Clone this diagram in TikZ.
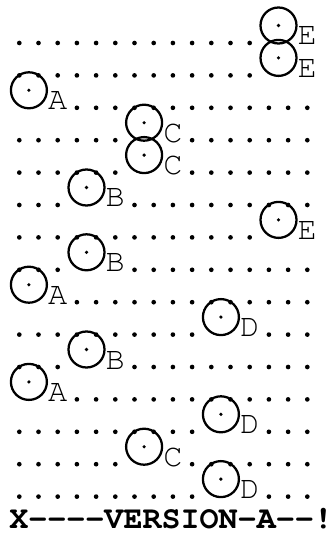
\documentclass[tikz,border=0pt]{standalone}
\usepackage[T1]{fontenc}
\usepackage{courier}
\begin{document}
\begin{tikzpicture}[x=0.75pt, y=-0.75pt,
        ring/.style={circle, draw, line width=1.7pt, minimum size=27pt, inner sep=0pt},
        tag/.style={anchor=base, inner sep=0pt, font=\ttfamily\fontsize{24}{24}\selectfont}]

        \useasboundingbox (0,0) rectangle (334,541);

        \foreach \r/\s/\l [count=\i] in {1/14/E, 2/14/E, 3/1/A, 4/7/C, 5/7/C, 6/4/B, 7/14/E, 8/4/B,
                                         9/1/A, 10/11/D, 11/4/B, 12/1/A, 13/11/D, 14/7/C, 15/11/D}
            {
                % dots of the row, left out where the marker sits
                \foreach \c in {1,...,16}
                    {
                        \pgfmathtruncatemacro\keep{(\c<\s)||(\c>\s+2)}
                        \ifnum\keep=1
                            \fill ({19.3+(\c-1)*19.2}, {43+(\r-1)*32.4}) circle (1.75pt);
                        \fi
                    }
                \node[name=ring\i, ring] at ({19.3+(\s-1)*19.2+9.6}, {43+(\r-1)*32.4-17.5}) {};
                \fill (ring\i.center) circle (1.35pt);
                \node[name=tag\i, tag] at ({19.3+(\s+1)*19.2}, {43+(\r-1)*32.4+2}) {\l};
            }

        \node[name=title, anchor=base west, inner sep=0pt, font=\ttfamily\bfseries\fontsize{23.8}{24}\selectfont]
            at (9,528) {X-{}-{}-{}-VERSION-A-{}-!};
    \end{tikzpicture}
\end{document}
